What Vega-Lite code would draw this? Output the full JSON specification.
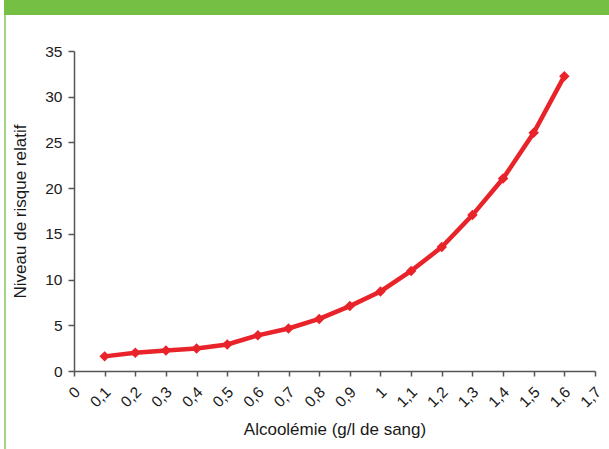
{
  "$schema": "https://vega.github.io/schema/vega-lite/v6.json",
  "background": "white",
  "padding": {"left": 4, "top": 0, "right": 0, "bottom": 0},
  "config": {
    "font": "Liberation Sans",
    "view": {"stroke": null}
  },
  "bounds": "flush",
  "align": "none",
  "spacing": 0,
  "vconcat": [
    {
      "width": 605,
      "height": 15,
      "data": {"values": [{"band": "top"}]},
      "mark": {"type": "rect", "color": "#74BF44"},
      "encoding": {}
    },
    {
      "bounds": "flush",
      "align": "none",
      "spacing": 68,
      "hconcat": [
        {
          "width": 2,
          "height": 434,
          "data": {"values": [{"band": "left"}]},
          "mark": {"type": "rect", "color": "#A2D585"},
          "encoding": {}
        },
        {
          "bounds": "flush",
          "align": "none",
          "spacing": 0,
          "vconcat": [
            {
              "width": 521,
              "height": 36,
              "data": {"values": []},
              "mark": "rect",
              "encoding": {}
            },
            {
              "width": 521,
              "height": 320,
              "data": {
                "values": [
                  {"alcoolemie": 0.1, "risque": 1.6},
                  {"alcoolemie": 0.2, "risque": 2.0},
                  {"alcoolemie": 0.3, "risque": 2.25},
                  {"alcoolemie": 0.4, "risque": 2.45},
                  {"alcoolemie": 0.5, "risque": 2.9},
                  {"alcoolemie": 0.6, "risque": 3.9},
                  {"alcoolemie": 0.7, "risque": 4.65},
                  {"alcoolemie": 0.8, "risque": 5.7},
                  {"alcoolemie": 0.9, "risque": 7.1},
                  {"alcoolemie": 1.0, "risque": 8.7},
                  {"alcoolemie": 1.1, "risque": 10.95},
                  {"alcoolemie": 1.2, "risque": 13.55},
                  {"alcoolemie": 1.3, "risque": 17.05},
                  {"alcoolemie": 1.4, "risque": 21.05},
                  {"alcoolemie": 1.5, "risque": 26.05},
                  {"alcoolemie": 1.6, "risque": 32.25}
                ]
              },
              "mark": {
                "type": "line",
                "color": "#E8232A",
                "strokeWidth": 4.5,
                "point": {"shape": "diamond", "size": 110, "filled": true, "color": "#E8232A", "opacity": 1}
              },
              "encoding": {
                "x": {
                  "field": "alcoolemie",
                  "type": "quantitative",
                  "scale": {"domain": [0, 1.7], "nice": false, "zero": true},
                  "axis": {
                    "title": "Alcoolémie (g/l de sang)",
                    "values": [0, 0.1, 0.2, 0.3, 0.4, 0.5, 0.6, 0.7, 0.8, 0.9, 1, 1.1, 1.2, 1.3, 1.4, 1.5, 1.6, 1.7],
                    "labelExpr": "replace(format(datum.value, '.1~f'), '.', ',')",
                    "grid": false,
                    "domainColor": "#555555",
                    "domainWidth": 1.5,
                    "tickColor": "#555555",
                    "tickWidth": 1.5,
                    "tickSize": 5,
                    "labelAngle": -45,
                    "labelAlign": "right",
                    "labelBaseline": "middle",
                    "labelPadding": 13,
                    "labelOffset": 3,
                    "labelFontSize": 15.5,
                    "labelColor": "#1a1a1a",
                    "labelOverlap": false,
                    "labelFlush": false,
                    "titleFontSize": 17,
                    "titleFontWeight": "normal",
                    "titleColor": "#1a1a1a",
                    "titlePadding": 11
                  }
                },
                "y": {
                  "field": "risque",
                  "type": "quantitative",
                  "scale": {"domain": [0, 35], "nice": false},
                  "axis": {
                    "title": "Niveau de risque relatif",
                    "values": [0, 5, 10, 15, 20, 25, 30, 35],
                    "grid": false,
                    "domainColor": "#555555",
                    "domainWidth": 1.5,
                    "tickColor": "#555555",
                    "tickWidth": 1.5,
                    "tickSize": 6,
                    "labelPadding": 6,
                    "labelFontSize": 15.5,
                    "labelColor": "#1a1a1a",
                    "labelFlush": false,
                    "titleFontSize": 17,
                    "titleFontWeight": "normal",
                    "titleColor": "#1a1a1a",
                    "titlePadding": 15
                  }
                }
              }
            }
          ]
        }
      ]
    }
  ]
}
